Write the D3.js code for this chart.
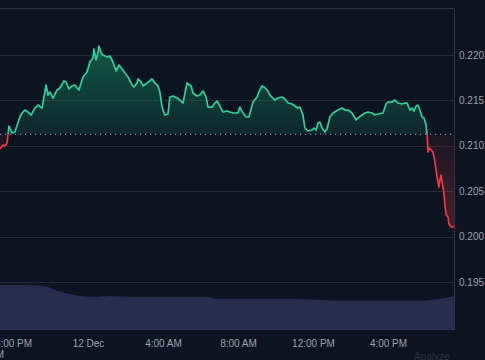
<!DOCTYPE html>
<html>
<head>
<meta charset="utf-8">
<script src="https://cdn.jsdelivr.net/npm/d3@7"></script>
<style>
  html, body { margin: 0; padding: 0; background: #0d1421; }
  svg { display: block; }
</style>
</head>
<body>
<svg id="chart" width="485" height="360"></svg>
<script>
// ---- data (minutes after 11 Dec 19:00) ----
const priceMinutes = [18,28,34,41,47,57,66,82,89,98,108,118,130,140,153,166,172,178,188,201,210,223,230,239,249,258,271,284,297,306,316,319,326,332,335,342,348,361,370,380,390,399,409,418,428,441,447,457,460,470,476,489,505,514,524,530,537,546,556,562,572,585,594,604,617,630,636,649,658,668,678,684,697,706,713,722,732,745,754,764,780,786,796,806,815,828,841,847,857,863,873,882,898,908,921,930,940,953,962,972,978,988,994,1004,1017,1023,1030,1036,1042,1049,1058,1065,1074,1084,1100,1113,1122,1132,1145,1158,1164,1177,1186,1196,1209,1218,1228,1244,1254,1260,1273,1282,1292,1305,1314,1321,1330,1337,1343,1350,1356,1362,1369,1375,1382,1385,1388,1391,1398,1404,1410,1414,1417,1423,1426,1430,1433,1439,1442,1446,1452,1455,1462,1468,1471];
const priceValues = [0.20965,0.21009,0.20998,0.21031,0.21218,0.21141,0.21152,0.21317,0.21361,0.21394,0.21372,0.21339,0.21416,0.21449,0.21416,0.21670,0.21559,0.21593,0.21526,0.21615,0.21637,0.21714,0.21703,0.21626,0.21659,0.21670,0.21615,0.21758,0.21813,0.21923,0.21967,0.22066,0.21945,0.22033,0.22099,0.22022,0.22000,0.21978,0.21989,0.21923,0.21824,0.21890,0.21846,0.21802,0.21758,0.21670,0.21648,0.21692,0.21736,0.21703,0.21659,0.21692,0.21736,0.21692,0.21659,0.21593,0.21427,0.21339,0.21350,0.21537,0.21548,0.21526,0.21504,0.21471,0.21692,0.21659,0.21582,0.21548,0.21559,0.21604,0.21537,0.21427,0.21427,0.21471,0.21493,0.21438,0.21372,0.21383,0.21372,0.21361,0.21361,0.21427,0.21361,0.21317,0.21317,0.21482,0.21537,0.21593,0.21659,0.21648,0.21615,0.21559,0.21504,0.21526,0.21537,0.21515,0.21471,0.21460,0.21438,0.21416,0.21427,0.21339,0.21196,0.21163,0.21174,0.21196,0.21174,0.21251,0.21262,0.21196,0.21152,0.21185,0.21317,0.21361,0.21394,0.21416,0.21394,0.21394,0.21361,0.21284,0.21306,0.21339,0.21361,0.21372,0.21361,0.21339,0.21350,0.21361,0.21460,0.21482,0.21482,0.21504,0.21471,0.21460,0.21471,0.21471,0.21394,0.21416,0.21383,0.21438,0.21449,0.21394,0.21317,0.21306,0.21229,0.21130,0.20932,0.20976,0.20954,0.20932,0.20822,0.20734,0.20656,0.20546,0.20623,0.20678,0.20601,0.20480,0.20348,0.20238,0.20216,0.20139,0.20106,0.20106,0.20117];
const baselinePrice = 0.21127;

const volumeMinutes = [18,82,146,172,194,226,274,322,370,434,530,690,706,978,1074,1385,1426,1471];
const volumeValues  = [45,45,44.5,43,40,37,34,33,34,33,33,33,31,31,29.5,29.5,31,34];

const yTickValues = [0.195,0.200,0.205,0.210,0.215,0.220];
const xTickHours = [20,24,28,32,36,40]; // hours after 11 Dec 00:00

// ---- setup ----
const base = new Date(2023, 11, 11, 19, 0);
const toDate = m => new Date(base.getTime() + m * 60000);
const day0 = new Date(2023, 11, 11, 0, 0);

const prices = priceMinutes.map((m, i) => ({ t: toDate(m), v: priceValues[i] }));
const volumes = volumeMinutes.map((m, i) => ({ t: toDate(m), v: volumeValues[i] }));

const svg = d3.select("#chart");
const plotRight = 454, plotTop = 8, plotBottom = 330;

const x = d3.scaleTime()
  .domain([toDate(18.4), toDate(1471.2)])
  .range([0, plotRight]);
const y = d3.scaleLinear().domain([0.195, 0.220]).range([282, 55]);
const yVol = d3.scaleLinear().domain([0, 50]).range([plotBottom, 280]);

const yBase = y(baselinePrice);

const defs = svg.append("defs");
const gGreen = defs.append("linearGradient").attr("id", "gGreen")
  .attr("gradientUnits", "userSpaceOnUse").attr("x1", 0).attr("x2", 0)
  .attr("y1", y(0.221)).attr("y2", yBase);
gGreen.append("stop").attr("offset", 0).attr("stop-color", "#16c784").attr("stop-opacity", 0.38);
gGreen.append("stop").attr("offset", 1).attr("stop-color", "#16c784").attr("stop-opacity", 0.10);
const gRed = defs.append("linearGradient").attr("id", "gRed")
  .attr("gradientUnits", "userSpaceOnUse").attr("x1", 0).attr("x2", 0)
  .attr("y1", yBase).attr("y2", y(0.2005));
gRed.append("stop").attr("offset", 0).attr("stop-color", "#ea3943").attr("stop-opacity", 0.05);
gRed.append("stop").attr("offset", 1).attr("stop-color", "#ea3943").attr("stop-opacity", 0.30);

defs.append("clipPath").attr("id", "clipAbove").append("rect")
  .attr("x", 0).attr("y", 0).attr("width", plotRight).attr("height", yBase);
defs.append("clipPath").attr("id", "clipBelow").append("rect")
  .attr("x", 0).attr("y", yBase).attr("width", plotRight).attr("height", plotBottom - yBase);

// gridlines
svg.append("g").selectAll("line").data(yTickValues).join("line")
  .attr("x1", 0).attr("x2", plotRight)
  .attr("y1", d => Math.round(y(d)) + 0.5).attr("y2", d => Math.round(y(d)) + 0.5)
  .attr("stroke", "#262b38").attr("stroke-width", 1);
svg.append("line").attr("x1", 0).attr("x2", plotRight).attr("y1", plotTop + 0.5).attr("y2", plotTop + 0.5)
  .attr("stroke", "#2e3340");
svg.append("line").attr("x1", plotRight + 0.5).attr("x2", plotRight + 0.5).attr("y1", plotTop).attr("y2", plotBottom)
  .attr("stroke", "#2e3340");

// volume
svg.append("path").datum(volumes)
  .attr("d", d3.area().x(d => x(d.t)).y0(plotBottom).y1(d => yVol(d.v)))
  .attr("fill", "#262d4d");

// price areas
const area = d3.area().x(d => x(d.t)).y0(yBase).y1(d => y(d.v));
const line = d3.line().x(d => x(d.t)).y(d => y(d.v));

svg.append("path").datum(prices).attr("d", area).attr("fill", "url(#gGreen)").attr("clip-path", "url(#clipAbove)");
svg.append("path").datum(prices).attr("d", area).attr("fill", "url(#gRed)").attr("clip-path", "url(#clipBelow)");
svg.append("path").datum(prices).attr("d", line).attr("fill", "none")
  .attr("stroke", "#2bd39a").attr("stroke-width", 1.7).attr("stroke-linejoin", "round")
  .attr("clip-path", "url(#clipAbove)");
svg.append("path").datum(prices).attr("d", line).attr("fill", "none")
  .attr("stroke", "#ea3943").attr("stroke-width", 1.7).attr("stroke-linejoin", "round")
  .attr("clip-path", "url(#clipBelow)");

// baseline
svg.append("line").attr("x1", 0).attr("x2", plotRight)
  .attr("y1", yBase).attr("y2", yBase)
  .attr("stroke", "#aab0bb").attr("stroke-width", 1).attr("stroke-dasharray", "1.2,3.8");

// y labels
svg.append("g").attr("font-family", "Liberation Sans, Arial, sans-serif").attr("font-size", 10)
  .selectAll("text").data(yTickValues).join("text")
  .attr("x", 459).attr("y", d => y(d)).attr("dy", "0.35em")
  .attr("fill", "#9ba1ad").text(d => d.toFixed(3));

// x axis
const fmtTime = d3.timeFormat("%-I:%M %p");
const xAxis = d3.axisBottom(x)
  .tickValues(xTickHours.map(h => new Date(day0.getTime() + h * 3600000)))
  .tickSize(0).tickPadding(10)
  .tickFormat(d => (d.getHours() === 0 ? d3.timeFormat("%-d %b")(d) : fmtTime(d)));
const gx = svg.append("g").attr("transform", `translate(0,${plotBottom})`).call(xAxis);
gx.select(".domain").remove();
gx.selectAll("text").attr("fill", "#9ba1ad").attr("font-size", 10)
  .attr("font-family", "Liberation Sans, Arial, sans-serif");

// corner fragments
svg.append("text").attr("x", 4).attr("y", 358).attr("text-anchor", "end")
  .attr("font-family", "Liberation Sans, Arial, sans-serif").attr("font-size", 10)
  .attr("fill", "#9ba1ad").text("PM");
svg.append("text").attr("x", 414).attr("y", 360)
  .attr("font-family", "Liberation Sans, Arial, sans-serif").attr("font-size", 10)
  .attr("fill", "#2a3142").text("Analyze");
</script>
</body>
</html>
